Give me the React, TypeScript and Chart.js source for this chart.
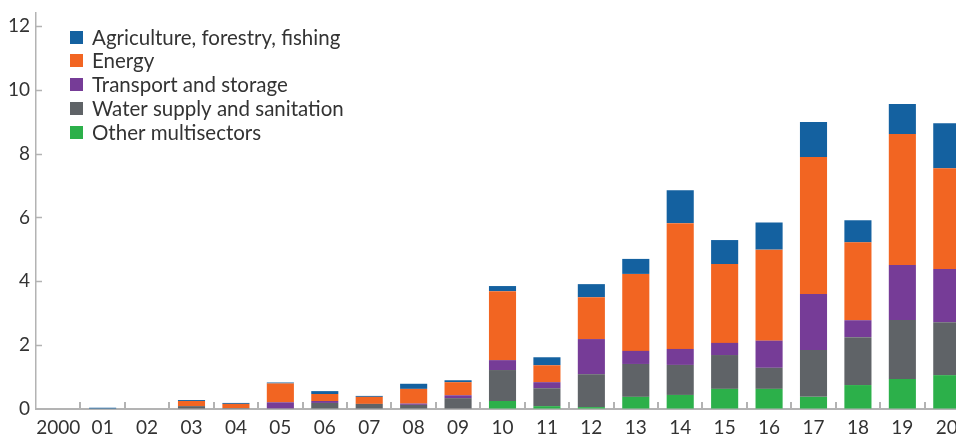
import React, { useEffect, useRef } from 'react';
import { Chart, registerables } from 'chart.js';

Chart.register(...registerables);

const categories = ['2000', '01', '02', '03', '04', '05', '06', '07', '08', '09', '10', '11', '12', '13', '14', '15', '16', '17', '18', '19', '20'];

const otherMultisectors = [0, 0, 0, 0, 0, 0, 0, 0, 0, 0, 0.25, 0.09, 0.06, 0.38, 0.44, 0.63, 0.63, 0.38, 0.75, 0.94, 1.06];
const waterSanitation = [0, 0, 0, 0.09, 0.03, 0.02, 0.19, 0.16, 0.13, 0.34, 0.97, 0.56, 1.03, 1.03, 0.94, 1.06, 0.66, 1.47, 1.5, 1.85, 1.66];
const transportStorage = [0, 0, 0, 0, 0, 0.19, 0.06, 0, 0.04, 0.09, 0.31, 0.19, 1.1, 0.41, 0.5, 0.38, 0.85, 1.75, 0.53, 1.72, 1.66];
const energy = [0, 0, 0, 0.16, 0.13, 0.59, 0.22, 0.22, 0.46, 0.41, 2.16, 0.53, 1.31, 2.41, 3.94, 2.47, 2.85, 4.29, 2.44, 4.1, 3.16];
const agriculture = [0, 0.04, 0, 0.03, 0.03, 0.03, 0.09, 0.03, 0.16, 0.06, 0.16, 0.25, 0.41, 0.47, 1.03, 0.75, 0.85, 1.1, 0.69, 0.94, 1.41];

const yTickValues = [0, 2, 4, 6, 8, 10, 12];

const FONT = 'Lato, "Open Sans", sans-serif';
const AXIS_COLOR = '#b3b3b3';
const TEXT_COLOR = '#333333';

const axisTicksPlugin = {
  id: 'axisTicks',
  afterDraw(chart: any) {
    const { ctx, chartArea, scales } = chart;
    const x = scales.x;
    const y = scales.y;
    ctx.save();
    ctx.strokeStyle = AXIS_COLOR;
    const band = x.getPixelForValue(1) - x.getPixelForValue(0);
    ctx.lineWidth = 2;
    for (let i = 1; i <= categories.length; i++) {
      const px = Math.round(x.getPixelForValue(i) - band / 2);
      ctx.beginPath();
      ctx.moveTo(px, chartArea.bottom);
      ctx.lineTo(px, chartArea.bottom - 7);
      ctx.stroke();
    }
    ctx.lineWidth = 1.5;
    y.ticks.forEach((t: any) => {
      if (t.value === 0) return;
      const py = Math.round(y.getPixelForValue(t.value)) + 0.5;
      ctx.beginPath();
      ctx.moveTo(chartArea.left, py);
      ctx.lineTo(chartArea.left + 6, py);
      ctx.stroke();
    });
    ctx.restore();
  },
};

const legendPlugin = {
  id: 'insideLegend',
  afterDraw(chart: any) {
    const { ctx, chartArea } = chart;
    const items = [...chart.data.datasets].reverse();
    ctx.save();
    ctx.font = `20.5px ${FONT}`;
    ctx.textBaseline = 'middle';
    ctx.textAlign = 'left';
    items.forEach((ds: any, i: number) => {
      const cy = 37 + i * 23.8;
      const bx = chartArea.left + 34;
      ctx.fillStyle = ds.backgroundColor;
      ctx.fillRect(bx, Math.round(cy - 6.5), 13, 13);
      ctx.fillStyle = TEXT_COLOR;
      ctx.fillText(ds.label, bx + 22, cy + 1);
    });
    ctx.restore();
  },
};

export default function App() {
  const ref = useRef<HTMLCanvasElement>(null);

  useEffect(() => {
    const canvas = ref.current;
    if (!canvas) return;
    const chart = new Chart(canvas, {
      type: 'bar',
      data: {
        labels: categories,
        datasets: [
          { label: 'Other multisectors', data: otherMultisectors, backgroundColor: '#2cb04a' },
          { label: 'Water supply and sanitation', data: waterSanitation, backgroundColor: '#5f6367' },
          { label: 'Transport and storage', data: transportStorage, backgroundColor: '#763c97' },
          { label: 'Energy', data: energy, backgroundColor: '#f26522' },
          { label: 'Agriculture, forestry, fishing', data: agriculture, backgroundColor: '#1461a0' },
        ],
      },
      options: {
        responsive: false,
        animation: false,
        layout: { padding: { top: 13, right: 11, left: 0, bottom: 0 } },
        datasets: { bar: { categoryPercentage: 1, barPercentage: 0.61, borderWidth: 0 } },
        plugins: { legend: { display: false }, tooltip: { enabled: false } },
        scales: {
          x: {
            stacked: true,
            offset: true,
            grid: { drawOnChartArea: false, drawTicks: false },
            border: { display: true, color: AXIS_COLOR, width: 2 },
            ticks: {
              autoSkip: false,
              maxRotation: 0,
              padding: 7,
              color: TEXT_COLOR,
              font: { family: FONT, size: 19 },
            },
            afterFit(scale: any) {
              scale.height = 27;
              scale.paddingLeft = 0;
              scale.paddingRight = 0;
            },
          },
          y: {
            stacked: true,
            min: 0,
            max: 12.4,
            grid: { drawOnChartArea: false, drawTicks: false },
            border: { display: true, color: AXIS_COLOR, width: 1.5 },
            ticks: {
              stepSize: 2,
              includeBounds: false,
              padding: 6,
              color: TEXT_COLOR,
              font: { family: FONT, size: 19 },
            },
            afterBuildTicks(scale: any) {
              scale.ticks = yTickValues.map((v) => ({ value: v }));
            },
            afterFit(scale: any) {
              scale.width = 36;
              scale.paddingTop = 0;
              scale.paddingBottom = 0;
            },
          },
        },
      },
      plugins: [axisTicksPlugin, legendPlugin],
    } as any);
    return () => chart.destroy();
  }, []);

  return (
    <div style={{ position: 'fixed', left: 0, top: 0, width: 956, height: 436, overflow: 'hidden', background: '#fff' }}>
      <canvas ref={ref} width={980} height={436} style={{ display: 'block' }} />
    </div>
  );
}
